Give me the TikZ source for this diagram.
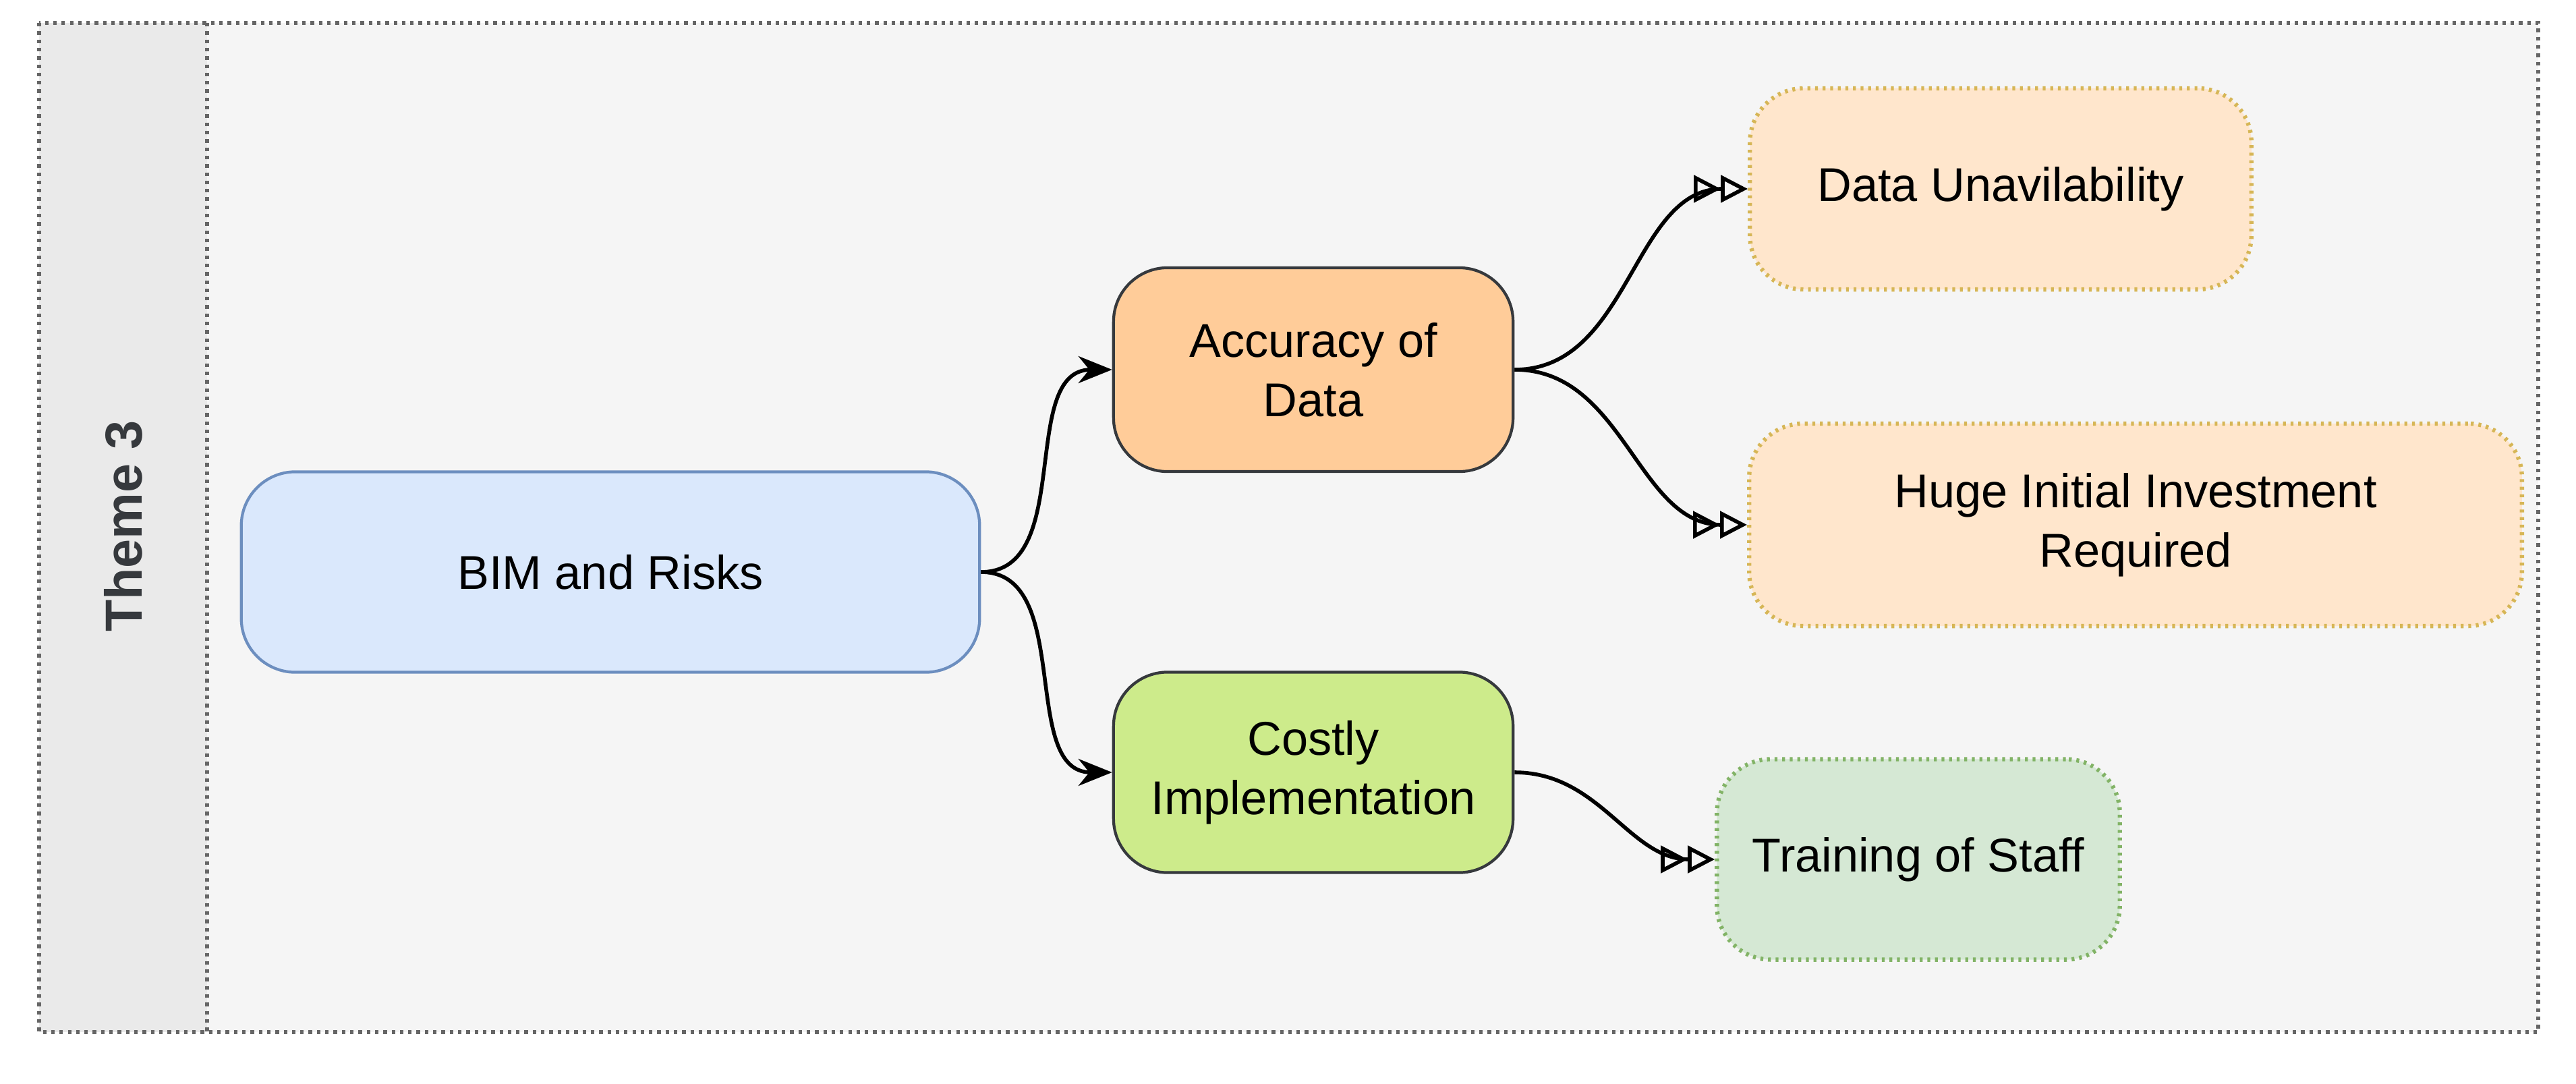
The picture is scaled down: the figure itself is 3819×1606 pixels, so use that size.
\documentclass[tikz,border=0pt]{standalone}
\usepackage{fontspec}
\setmainfont{Liberation Sans}
\usetikzlibrary{arrows.meta}
\definecolor{bg}{HTML}{F5F5F5}
\definecolor{colbg}{HTML}{EAEAEA}
\definecolor{frame}{HTML}{666666}
\definecolor{blueF}{HTML}{DAE8FC}\definecolor{blueS}{HTML}{6C8EBF}
\definecolor{orF}{HTML}{FFCC99}\definecolor{darkS}{HTML}{36393D}
\definecolor{grF}{HTML}{CDEB8B}
\definecolor{lorF}{HTML}{FFE6CC}\definecolor{yelS}{HTML}{D6B656}
\definecolor{lgrF}{HTML}{D5E8D4}\definecolor{lgrS}{HTML}{82B366}
\tikzset{
 box/.style={rounded corners=0.8cm, align=center, font=\fontsize{20}{25}\selectfont, line width=1.2pt, inner sep=0pt},
 leaf/.style={box, dotted, line width=1.8pt},
 main/.style={line width=1.6pt, -{Stealth[length=0.5cm,width=0.4cm]}},
 sub/.style={line width=1.6pt, -{Triangle[open,length=0.4cm,width=0.4cm]Triangle[open,length=0.4cm,width=0.4cm]}},
}
\begin{document}
\begin{tikzpicture}[x=0.01cm,y=-0.01cm]
\useasboundingbox (0,0) rectangle (3819,1606);
\fill[white] (0,0) rectangle (3819,1606);
\fill[bg] (58,34) rectangle (3763,1530);
\fill[colbg] (58,34) rectangle (307,1530);
\draw[frame, dotted, line width=1.5pt] (58,34) rectangle (3763,1530);
\draw[frame, dotted, line width=1.5pt] (307,34) -- (307,1530);
\node[rotate=90, font=\fontsize{22}{26}\selectfont\bfseries, text=darkS] (theme) at (183,780) {Theme 3};
\node[box, draw=blueS, fill=blueF, minimum width=10.94cm, minimum height=2.97cm] (bim) at (905,848) {BIM and Risks};
\node[box, draw=darkS, fill=orF, minimum width=5.92cm, minimum height=3.02cm] (acc) at (1947,548) {Accuracy of\\Data};
\node[box, draw=darkS, fill=grF, minimum width=5.92cm, minimum height=2.97cm] (cost) at (1947,1145) {Costly\\Implementation};
\node[leaf, draw=yelS, fill=lorF, minimum width=7.43cm, minimum height=2.98cm] (data) at (2966,280) {Data Unavilability};
\node[leaf, draw=yelS, fill=lorF, minimum width=11.45cm, minimum height=3.0cm] (huge) at (3166,778) {Huge Initial Investment\\Required};
\node[leaf, draw=lgrS, fill=lgrF, minimum width=5.97cm, minimum height=2.97cm] (train) at (2844,1274) {Training of Staff};
\draw[main] (bim.east) to[out=0,in=180] (acc.west);
\draw[main] (bim.east) to[out=0,in=180] (cost.west);
\draw[sub] (acc.east) to[out=0,in=180] (data.west);
\draw[sub] (acc.east) to[out=0,in=180] (huge.west);
\draw[sub] (cost.east) to[out=0,in=180] (train.west);
\end{tikzpicture}
\end{document}
